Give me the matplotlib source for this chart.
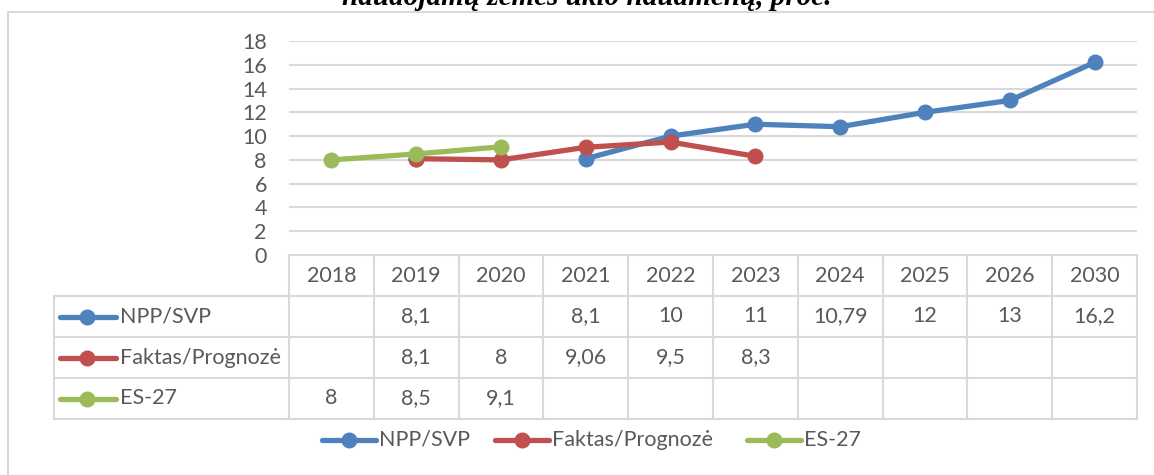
import numpy as np
import matplotlib.pyplot as plt

years = ['2018', '2019', '2020', '2021', '2022', '2023', '2024', '2025', '2026', '2030']
npp_svp = [np.nan, 8.1, np.nan, 8.1, 10, 11, 10.79, 12, 13, 16.2]
faktas = [np.nan, 8.1, 8, 9.06, 9.5, 8.3, np.nan, np.nan, np.nan, np.nan]
es27 = [8, 8.5, 9.1, np.nan, np.nan, np.nan, np.nan, np.nan, np.nan, np.nan]
names = ['NPP/SVP', 'Faktas/Prognozė', 'ES-27']
colors = ['#4F81BD', '#C0504D', '#9BBB59']
title = 'naudojamų žemės ūkio naudmenų, proc.'

W, H = 1154, 475
FONT = 'Lato'
TXT = '#595959'
GRID = '#D9D9D9'
FS = 15.5

plt.rcParams['font.family'] = [FONT, 'DejaVu Sans']

fig = plt.figure(figsize=(W / 100, H / 100), dpi=100)

# overlay in pixel coords for table, legend, border
ov = fig.add_axes([0, 0, 1, 1])
ov.set_xlim(0, W)
ov.set_ylim(H, 0)
ov.axis('off')
ov.patch.set_alpha(0)

# plot area
px0, px1 = 289, 1137
py0, py1 = 41, 255
ax = fig.add_axes([px0 / W, (H - py1) / H, (px1 - px0) / W, (py1 - py0) / H])
ax.patch.set_alpha(0)
ax.set_xlim(-0.5, len(years) - 0.5)
ax.set_ylim(0, 18)
ax.set_yticks(range(0, 19, 2))
ax.set_xticks([])
for s in ax.spines.values():
    s.set_visible(False)
ax.tick_params(axis='y', length=0, pad=16, labelsize=FS, labelcolor=TXT)
for yv in range(2, 19, 2):
    ax.axhline(yv, color=GRID, lw=1.5, zorder=0)

x = np.arange(len(years))
series = [npp_svp, faktas, es27]
for vals, c in zip(series, colors):
    ax.plot(x, vals, '-o', color=c, lw=3.8, ms=10.5, clip_on=False, zorder=3)

# title (cut off at top, as in the source)
fig.text(587 / W, 1 - 5 / H, title, ha='center', va='baseline', fontsize=21,
         fontweight='bold', fontstyle='italic', family='Liberation Serif', color='black')

# outer border
ov.plot([8, 8, W + 5], [H + 5, 12, 12], color=GRID, lw=1.5)

# data table
cw = (px1 - px0) / len(years)
rh = 41
tl = 54
row_tops = [py1 + k * rh for k in range(5)]
ov.plot([px0, px1], [py1, py1], color=GRID, lw=1.5)
for r in row_tops[1:]:
    ov.plot([tl, px1], [r, r], color=GRID, lw=1.5)
for i in range(len(years) + 1):
    ov.plot([px0 + i * cw] * 2, [py1, row_tops[-1]], color=GRID, lw=1.5)
ov.plot([tl, tl], [row_tops[1], row_tops[-1]], color=GRID, lw=1.5)

def fmt(v):
    if np.isnan(v):
        return ''
    return ('%g' % v).replace('.', ',')

for i, yr in enumerate(years):
    cx = px0 + (i + 0.5) * cw
    ov.text(cx, py1 + rh / 2, yr, ha='center', va='center', fontsize=FS, color=TXT)
    for r, vals in enumerate(series):
        ov.text(cx, row_tops[r + 1] + rh / 2, fmt(vals[i]), ha='center', va='center',
                fontsize=FS, color=TXT)

for r, (nm, c) in enumerate(zip(names, colors)):
    cy = row_tops[r + 1] + rh / 2
    ov.plot([60, 116], [cy, cy], color=c, lw=3.8, solid_capstyle='round')
    ov.plot([87], [cy], 'o', color=c, ms=10.5)
    ov.text(120, cy, nm, ha='left', va='center', fontsize=FS, color=TXT)

# legend at bottom
leg_x = [322, 495, 747]
ly = 440
for lx, nm, c in zip(leg_x, names, colors):
    ov.plot([lx, lx + 54], [ly, ly], color=c, lw=3.8, solid_capstyle='round')
    ov.plot([lx + 27], [ly], 'o', color=c, ms=10.5)
    ov.text(lx + 57, ly, nm, ha='left', va='center', fontsize=FS, color=TXT)

fig.savefig('out.png', dpi=100)
